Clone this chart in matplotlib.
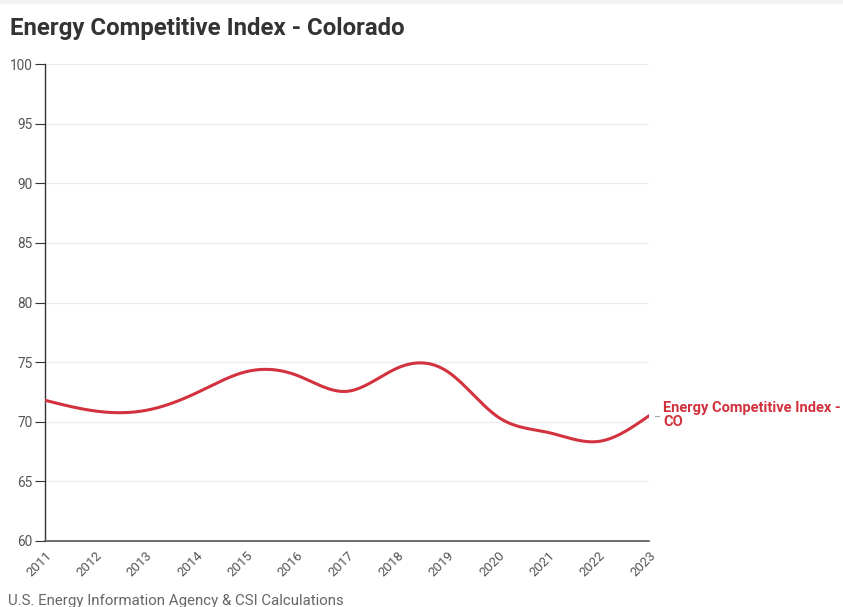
import numpy as np
import matplotlib
matplotlib.use("Agg")
import matplotlib.pyplot as plt
from matplotlib.patches import Rectangle

years = [2011, 2012, 2013, 2014, 2015, 2016, 2017, 2018, 2019, 2020, 2021, 2022, 2023]
index_values = [71.8, 70.9, 70.95, 72.4, 74.2, 73.9, 72.55, 74.5, 74.2, 70.4, 69.1, 68.35, 70.5]
y_ticks = [60, 65, 70, 75, 80, 85, 90, 95, 100]
title = "Energy Competitive Index - Colorado"
series_label = "Energy Competitive Index -\nCO"
source = "U.S. Energy Information Agency & CSI Calculations"

RED = "#d2323e"
plt.rcParams['font.family'] = ['Roboto', 'DejaVu Sans']


def natural_spline(x, y, n=400):
    x = np.asarray(x, float)
    y = np.asarray(y, float)
    m = len(x)
    h = np.diff(x)
    A = np.zeros((m, m))
    b = np.zeros(m)
    A[0, 0] = 1
    A[-1, -1] = 1
    for i in range(1, m - 1):
        A[i, i - 1] = h[i - 1]
        A[i, i] = 2 * (h[i - 1] + h[i])
        A[i, i + 1] = h[i]
        b[i] = 3 * ((y[i + 1] - y[i]) / h[i] - (y[i] - y[i - 1]) / h[i - 1])
    c = np.linalg.solve(A, b)
    xs = np.linspace(x[0], x[-1], n)
    ys = np.empty_like(xs)
    for k, xv in enumerate(xs):
        i = min(np.searchsorted(x, xv, side='right') - 1, m - 2)
        dx = xv - x[i]
        bi = (y[i + 1] - y[i]) / h[i] - h[i] * (2 * c[i] + c[i + 1]) / 3
        di = (c[i + 1] - c[i]) / (3 * h[i])
        ys[k] = y[i] + bi * dx + c[i] * dx ** 2 + di * dx ** 3
    return xs, ys


fig = plt.figure(figsize=(8.43, 6.07), dpi=100)
fig.patches.append(Rectangle((0, 0.995), 1, 0.005, transform=fig.transFigure,
                             color="#f3f3f3", zorder=0))
ax = fig.add_axes([45 / 843, 1 - 541 / 607, (649 - 45) / 843, (541 - 64) / 607])

xs, ys = natural_spline(years, index_values)
ax.plot(xs, ys, color=RED, lw=2.2, solid_capstyle='round', zorder=3)

ax.set_xlim(years[0], years[-1])
ax.set_ylim(y_ticks[0], y_ticks[-1])
ax.set_yticks(y_ticks)
ax.set_xticks(years)
ax.set_xticklabels([str(y) for y in years], rotation=45, ha='right',
                   rotation_mode='anchor')
ax.grid(axis='y', color="#ececec", lw=0.9)
ax.set_axisbelow(True)
for s in ['top', 'right']:
    ax.spines[s].set_visible(False)
ax.spines['left'].set_color('#333333')
ax.spines['bottom'].set_color('#555555')
ax.spines['left'].set_linewidth(1.0)
ax.spines['bottom'].set_linewidth(1.2)
ax.tick_params(axis='y', length=7, color='#333333', labelsize=9.8,
               labelcolor='#555555', pad=2)
ax.tick_params(axis='x', length=0, labelsize=9.5, labelcolor='#555555', pad=6)

# end label
ax.plot([1.0095, 1.0165], [0.262, 0.262], transform=ax.transAxes,
        color='#aaaaaa', lw=0.8, clip_on=False)
ax.text(1.023, 0.293, series_label, transform=ax.transAxes, color=RED,
        fontsize=10.5, fontweight='bold', va='top', ha='left', linespacing=0.95)

fig.text(10 / 843, 1 - 28 / 607, title, fontsize=17.3, fontweight='bold',
         color='#333333', va='center', ha='left')
fig.text(8 / 843, 1 - 601 / 607, source, fontsize=10.8, color='#666666',
         va='center', ha='left')

fig.savefig("out.png", dpi=100)
